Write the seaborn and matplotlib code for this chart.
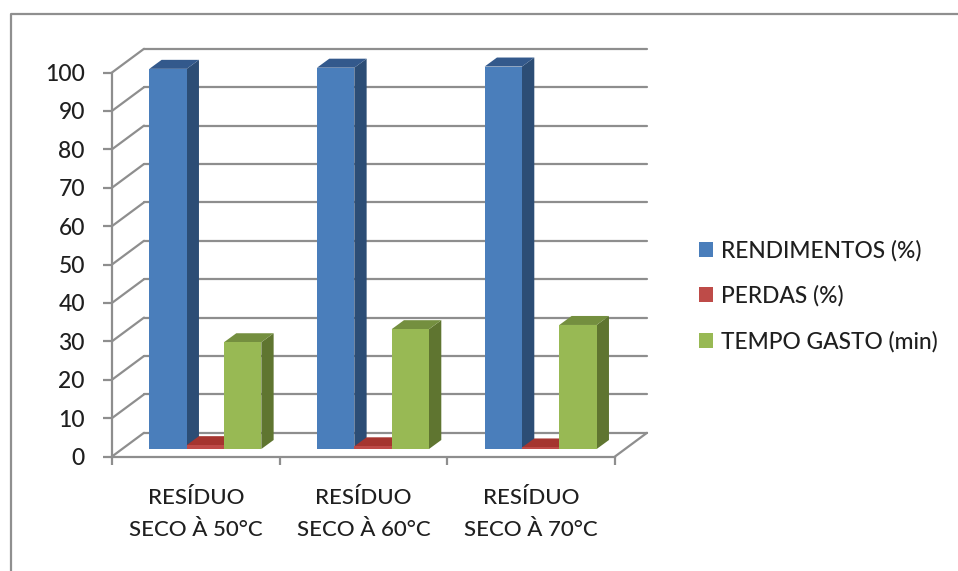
import matplotlib
matplotlib.use("Agg")
import matplotlib.pyplot as plt
from matplotlib.patches import Patch, Polygon
from matplotlib.lines import Line2D
import pandas as pd
import seaborn as sns

# Chart values
categories = ["RESÍDUO\nSECO À 50°C", "RESÍDUO\nSECO À 60°C", "RESÍDUO\nSECO À 70°C"]
series_names = ["RENDIMENTOS (%)", "PERDAS (%)", "TEMPO GASTO (min)"]
rendimentos = [99.0, 99.3, 99.6]
perdas = [1.0, 0.7, 0.4]
tempo_gasto = [27.8, 31.2, 32.3]
y_ticks = list(range(0, 101, 10))

# Front, top and side shades for each series
front_colors = ["#4a7ebb", "#be4b48", "#98b954"]
side_colors = ["#2c4d75", "#772c2a", "#5f7530"]
top_colors = ["#33598c", "#a5352f", "#748f3f"]
GRID = "#8e8e8e"
TEXT = "#1f1f1f"

W, H = 958, 571
sns.set_style("white")
plt.rcParams["font.family"] = ["Lato", "DejaVu Sans"]
plt.rcParams["font.weight"] = "medium"

fig = plt.figure(figsize=(W / 100, H / 100), dpi=100, facecolor="white")
left, right, bottom, top = 112, 615, 456.5, 72.5
ax = fig.add_axes([left / W, 1 - bottom / H, (right - left) / W, (bottom - top) / H])
ax.patch.set_visible(False)

df = pd.DataFrame({
    "categoria": categories * 3,
    "serie": [s for s in series_names for _ in categories],
    "valor": rendimentos + perdas + tempo_gasto,
})
sns.barplot(data=df, x="categoria", y="valor", hue="serie", palette=front_colors,
            width=0.668, gap=0, saturation=1, legend=False, ax=ax, zorder=3)
ax.set_xlim(-0.5, 2.5)
ax.set_ylim(0, 100)
ax.set_xlabel("")
ax.set_ylabel("")

# Pixel distances expressed in data units for the oblique projection
px_x = 3 / (right - left)
px_y = 100 / (bottom - top)
wall_dx, wall_dy = 32 * px_x, 23.7 * px_y
bar_shift_x, bar_shift_y = 9.5 * px_x, 7.5 * px_y
depth_x, depth_y = 12.3 * px_x, 9 * px_y

line_kw = dict(color=GRID, lw=1.6, clip_on=False, zorder=1, solid_capstyle="round")

# Back wall gridlines, left wall diagonals and the floor edge
for t in y_ticks:
    ax.add_line(Line2D([-0.5 + wall_dx, 2.5 + wall_dx], [t + wall_dy] * 2, **line_kw))
    ax.add_line(Line2D([-0.5, -0.5 + wall_dx], [t, t + wall_dy], **line_kw))
ax.add_line(Line2D([2.5, 2.5 + wall_dx], [0, wall_dy], **line_kw))

# Shift each bar into the plane of the floor and add its side and top faces
for s_idx, container in enumerate(ax.containers):
    for bar in container:
        x0 = bar.get_x() + bar_shift_x
        x1 = x0 + bar.get_width()
        y0 = bar_shift_y
        y1 = y0 + bar.get_height()
        bar.set_x(x0)
        bar.set_y(y0)
        bar.set_clip_on(False)
        bar.set_linewidth(0)
        z = 3 + s_idx
        bar.set_zorder(z + 0.2)
        ax.add_patch(Polygon(
            [(x1, y0), (x1 + depth_x, y0 + depth_y), (x1 + depth_x, y1 + depth_y), (x1, y1)],
            closed=True, fc=side_colors[s_idx], ec="none", clip_on=False, zorder=z))
        ax.add_patch(Polygon(
            [(x0, y1), (x0 + depth_x, y1 + depth_y), (x1 + depth_x, y1 + depth_y), (x1, y1)],
            closed=True, fc=top_colors[s_idx], ec="none", clip_on=False, zorder=z + 0.1))

# Front axis lines and ticks
sns.despine(ax=ax, top=True, right=True)
for side in ("left", "bottom"):
    ax.spines[side].set_color(GRID)
    ax.spines[side].set_linewidth(1.6)
ax.set_yticks(y_ticks)
ax.tick_params(axis="y", left=True, length=6.5, width=1.6, color=GRID, labelsize=16.5,
               labelcolor=TEXT, pad=13)
for label in ax.get_yticklabels():
    label.set_verticalalignment("center_baseline")
ax.set_xticks([-0.5, 0.5, 1.5, 2.5], labels=["", "", "", ""])
ax.set_xticks([0, 1, 2], labels=categories, minor=True)
ax.tick_params(axis="x", which="major", bottom=True, length=6, width=1.6, color=GRID)
ax.tick_params(axis="x", which="minor", bottom=True, length=0, labelsize=16, labelcolor=TEXT, pad=23)
for label in ax.get_xticklabels(minor=True):
    label.set_linespacing(1.74)

# Legend
handles = [Patch(fc=c, ec="none") for c in front_colors]
fig.legend(handles, series_names, loc="center left", bbox_to_anchor=(699 / W, 1 - 296 / H),
           frameon=False, fontsize=16.4, labelcolor=TEXT, handlelength=0.61, handleheight=0.61,
           handletextpad=0.35, labelspacing=1.05, borderpad=0, borderaxespad=0)

# Outer chart frame along the left and top edges
frame = Line2D([11 / W, 11 / W, 1], [0, 1 - 13.5 / H, 1 - 13.5 / H], transform=fig.transFigure,
               color="#8f8f8f", lw=1.6)
fig.add_artist(frame)

fig.savefig("out.png", dpi=100)
